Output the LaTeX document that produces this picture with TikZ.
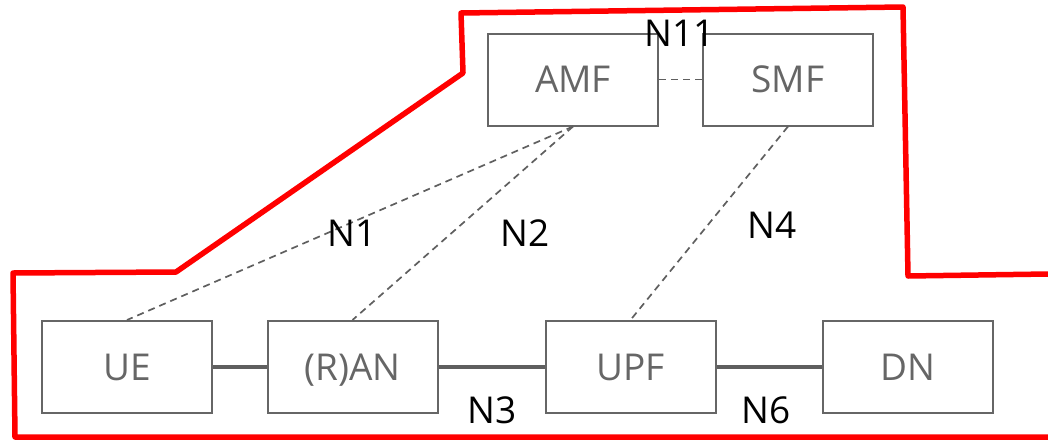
\documentclass[tikz,border=0pt]{standalone}
\usepackage{fontspec}
\setmainfont{Open Sans}
\usepackage{tikz}

\definecolor{nfgrey}{HTML}{666666}
\definecolor{linkgrey}{HTML}{5F5F5F}

\tikzset{
    nfbox/.style={draw=nfgrey, line width=2pt, text=nfgrey,
        minimum width=170pt, minimum height=92pt, inner sep=0pt,
        text height=26.5pt, text depth=0pt,
        font=\fontsize{37}{42}\selectfont},
    reflink/.style={draw=linkgrey, line width=1.7pt, dash pattern=on 7pt off 5pt},
    datalink/.style={draw=linkgrey, line width=4pt},
    iflabel/.style={text=black, inner sep=0pt, font=\fontsize{37}{42}\selectfont},
    border/.style={draw=red, line width=5.5pt, line join=round}
}

\begin{document}
\begin{tikzpicture}[x=1pt, y=-1pt]
        \useasboundingbox (0,0) rectangle (1048,442);

        % Fonctions du plan de controle
        \node[nfbox] (amf) at (573,79.5) {AMF};
        \node[nfbox] (smf) at (788,79.5) {SMF};

        % Fonctions du plan utilisateur
        \node[nfbox] (ue)  at (127,367)   {UE};
        \node[nfbox] (ran) at (352.5,367) {(R)AN};
        \node[nfbox] (upf) at (630.5,367) {UPF};
        \node[nfbox] (dn)  at (907.5,367) {DN};

        % Interfaces de signalisation
        \draw[reflink] (amf.east) -- (smf.west);
        \draw[reflink] (amf.south) -- (ue.north);
        \draw[reflink] (amf.south) -- (ran.north);
        \draw[reflink] (smf.south) -- (upf.north);

        % Liens de donnees
        \draw[datalink] (ue.east) -- (ran.west);
        \draw[datalink] (ran.east) -- (upf.west);
        \draw[datalink] (upf.east) -- (dn.west);

        % Noms des interfaces
        \node[iflabel] (n11) at (680,33)  {N11};
        \node[iflabel] (n1)  at (352,233) {N1};
        \node[iflabel] (n2)  at (525,233) {N2};
        \node[iflabel] (n4)  at (772,225) {N4};
        \node[iflabel] (n3)  at (492,410) {N3};
        \node[iflabel] (n6)  at (766,410) {N6};

        % Contour rouge
        \draw[border] (1048,274) -- (908,276) -- (903,7) -- (461,13)
            -- (463,73) -- (176,272) -- (13,273) -- (15,437) -- (1048,437);
    \end{tikzpicture}
\end{document}
